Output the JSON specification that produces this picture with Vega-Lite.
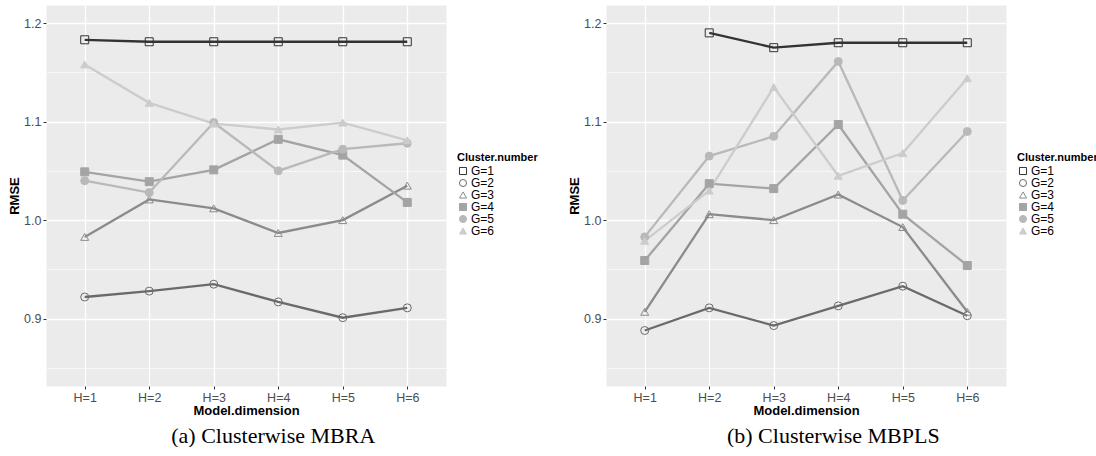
{
  "$schema": "https://vega.github.io/schema/vega-lite/v6.json",
  "background": "white",
  "padding": {"left": 8, "top": 4, "right": 0, "bottom": 0},
  "spacing": 29,
  "datasets": {
    "mbra": [
      {"H": "H=1", "G": "G=1", "RMSE": 1.183},
      {"H": "H=2", "G": "G=1", "RMSE": 1.181},
      {"H": "H=3", "G": "G=1", "RMSE": 1.181},
      {"H": "H=4", "G": "G=1", "RMSE": 1.181},
      {"H": "H=5", "G": "G=1", "RMSE": 1.181},
      {"H": "H=6", "G": "G=1", "RMSE": 1.181},
      {"H": "H=1", "G": "G=2", "RMSE": 0.922},
      {"H": "H=2", "G": "G=2", "RMSE": 0.928},
      {"H": "H=3", "G": "G=2", "RMSE": 0.935},
      {"H": "H=4", "G": "G=2", "RMSE": 0.917},
      {"H": "H=5", "G": "G=2", "RMSE": 0.901},
      {"H": "H=6", "G": "G=2", "RMSE": 0.911},
      {"H": "H=1", "G": "G=3", "RMSE": 0.983},
      {"H": "H=2", "G": "G=3", "RMSE": 1.021},
      {"H": "H=3", "G": "G=3", "RMSE": 1.012},
      {"H": "H=4", "G": "G=3", "RMSE": 0.987},
      {"H": "H=5", "G": "G=3", "RMSE": 1.000},
      {"H": "H=6", "G": "G=3", "RMSE": 1.035},
      {"H": "H=1", "G": "G=4", "RMSE": 1.049},
      {"H": "H=2", "G": "G=4", "RMSE": 1.039},
      {"H": "H=3", "G": "G=4", "RMSE": 1.051},
      {"H": "H=4", "G": "G=4", "RMSE": 1.082},
      {"H": "H=5", "G": "G=4", "RMSE": 1.066},
      {"H": "H=6", "G": "G=4", "RMSE": 1.018},
      {"H": "H=1", "G": "G=5", "RMSE": 1.040},
      {"H": "H=2", "G": "G=5", "RMSE": 1.028},
      {"H": "H=3", "G": "G=5", "RMSE": 1.099},
      {"H": "H=4", "G": "G=5", "RMSE": 1.050},
      {"H": "H=5", "G": "G=5", "RMSE": 1.072},
      {"H": "H=6", "G": "G=5", "RMSE": 1.078},
      {"H": "H=1", "G": "G=6", "RMSE": 1.158},
      {"H": "H=2", "G": "G=6", "RMSE": 1.119},
      {"H": "H=3", "G": "G=6", "RMSE": 1.098},
      {"H": "H=4", "G": "G=6", "RMSE": 1.092},
      {"H": "H=5", "G": "G=6", "RMSE": 1.099},
      {"H": "H=6", "G": "G=6", "RMSE": 1.081}
    ],
    "mbpls": [
      {"H": "H=2", "G": "G=1", "RMSE": 1.190},
      {"H": "H=3", "G": "G=1", "RMSE": 1.175},
      {"H": "H=4", "G": "G=1", "RMSE": 1.180},
      {"H": "H=5", "G": "G=1", "RMSE": 1.180},
      {"H": "H=6", "G": "G=1", "RMSE": 1.180},
      {"H": "H=1", "G": "G=2", "RMSE": 0.888},
      {"H": "H=2", "G": "G=2", "RMSE": 0.911},
      {"H": "H=3", "G": "G=2", "RMSE": 0.893},
      {"H": "H=4", "G": "G=2", "RMSE": 0.913},
      {"H": "H=5", "G": "G=2", "RMSE": 0.933},
      {"H": "H=6", "G": "G=2", "RMSE": 0.903},
      {"H": "H=1", "G": "G=3", "RMSE": 0.907},
      {"H": "H=2", "G": "G=3", "RMSE": 1.006},
      {"H": "H=3", "G": "G=3", "RMSE": 1.000},
      {"H": "H=4", "G": "G=3", "RMSE": 1.026},
      {"H": "H=5", "G": "G=3", "RMSE": 0.993},
      {"H": "H=6", "G": "G=3", "RMSE": 0.907},
      {"H": "H=1", "G": "G=4", "RMSE": 0.959},
      {"H": "H=2", "G": "G=4", "RMSE": 1.037},
      {"H": "H=3", "G": "G=4", "RMSE": 1.032},
      {"H": "H=4", "G": "G=4", "RMSE": 1.097},
      {"H": "H=5", "G": "G=4", "RMSE": 1.006},
      {"H": "H=6", "G": "G=4", "RMSE": 0.954},
      {"H": "H=1", "G": "G=5", "RMSE": 0.983},
      {"H": "H=2", "G": "G=5", "RMSE": 1.065},
      {"H": "H=3", "G": "G=5", "RMSE": 1.085},
      {"H": "H=4", "G": "G=5", "RMSE": 1.161},
      {"H": "H=5", "G": "G=5", "RMSE": 1.020},
      {"H": "H=6", "G": "G=5", "RMSE": 1.090},
      {"H": "H=1", "G": "G=6", "RMSE": 0.979},
      {"H": "H=2", "G": "G=6", "RMSE": 1.030},
      {"H": "H=3", "G": "G=6", "RMSE": 1.135},
      {"H": "H=4", "G": "G=6", "RMSE": 1.045},
      {"H": "H=5", "G": "G=6", "RMSE": 1.068},
      {"H": "H=6", "G": "G=6", "RMSE": 1.144}
    ]
  },
  "config": {
    "view": {"fill": "#EBEBEB", "stroke": "transparent"},
    "axis": {
      "domain": false,
      "grid": true,
      "gridColor": "white",
      "gridWidth": 1.3,
      "labelFont": "Liberation Sans",
      "labelFontSize": 12.5,
      "labelColor": "#4D4D4D",
      "tickColor": "#333333",
      "tickSize": 3,
      "labelPadding": 2,
      "titleFont": "Liberation Sans",
      "titleFontSize": 13,
      "titleFontWeight": "bold",
      "titleColor": "black"
    },
    "title": {"font": "Liberation Serif", "fontSize": 22, "fontWeight": "normal", "color": "black"}
  },
  "resolve": {"scale": {"color": "independent", "stroke": "independent", "fill": "independent", "shape": "independent"}, "legend": {"color": "independent", "stroke": "independent", "fill": "independent", "shape": "independent"}},
  "hconcat": [
    {
      "width": 400,
      "height": 381,
      "data": {"name": "mbra"},
      "title": {"text": "(a) Clusterwise MBRA", "orient": "bottom", "frame": "bounds", "anchor": "middle", "offset": 8},
      "encoding": {
        "x": {"field": "H", "type": "ordinal", "scale": {"type": "point", "padding": 0.6},
              "axis": {"title": "Model.dimension", "labelAngle": 0, "titlePadding": 1}},
        "y": {"field": "RMSE", "type": "quantitative",
              "scale": {"domain": [0.8317, 1.2183], "nice": false, "zero": false},
              "axis": {"title": "RMSE", "titlePadding": 2,
                       "values": [0.85, 0.9, 0.95, 1.0, 1.05, 1.1, 1.15, 1.2],
                       "labelExpr": "abs(datum.value*10 - round(datum.value*10)) < 0.01 ? format(datum.value, '.1f') : ''",
                       "gridWidth": {"condition": {"test": "abs(datum.value*10 - round(datum.value*10)) > 0.01", "value": 0.6}, "value": 1.3},
                       "tickColor": {"condition": {"test": "abs(datum.value*10 - round(datum.value*10)) > 0.01", "value": "transparent"}, "value": "#333333"}}}
      },
      "layer": [
        {"mark": {"type": "line", "strokeWidth": 2.3},
         "encoding": {"color": {"field": "G", "type": "nominal", "legend": null,
           "scale": {"range": ["#333333","#6A6A6A","#8B8B8B","#A4A4A4","#B9B9B9","#CCCCCC"]}}}},
        {"mark": {"type": "point", "size": 64, "strokeWidth": 1, "opacity": 1},
         "encoding": {
           "stroke": {"field": "G", "type": "nominal", "title": "Cluster.number",
             "scale": {"domain": ["G=1","G=2","G=3","G=4","G=5","G=6"], "range": ["#333333","#6A6A6A","#8B8B8B","#A4A4A4","#B9B9B9","#CCCCCC"]}},
           "fill": {"field": "G", "type": "nominal", "title": "Cluster.number",
             "scale": {"domain": ["G=1","G=2","G=3","G=4","G=5","G=6"], "range": ["transparent","transparent","transparent","#A4A4A4","#B9B9B9","#CCCCCC"]}},
           "shape": {"field": "G", "type": "nominal", "title": "Cluster.number",
             "scale": {"domain": ["G=1","G=2","G=3","G=4","G=5","G=6"], "range": ["square","circle","triangle-up","square","circle","triangle-up"]},
             "legend": {"orient": "none", "legendX": 411, "legendY": 147, "padding": 0,
                        "titleFont": "Liberation Sans", "titleFontSize": 11, "titleFontWeight": "bold", "titleColor": "black", "titlePadding": 2,
                        "labelFont": "Liberation Sans", "labelFontSize": 12, "labelColor": "black", "labelOffset": 2,
                        "rowPadding": 0, "symbolSize": 50, "symbolStrokeWidth": 1}}
         }}
      ]
    },
    {
      "width": 400,
      "height": 381,
      "data": {"name": "mbpls"},
      "title": {"text": "(b) Clusterwise MBPLS", "orient": "bottom", "frame": "bounds", "anchor": "middle", "offset": 8},
      "encoding": {
        "x": {"field": "H", "type": "ordinal", "scale": {"type": "point", "padding": 0.6},
              "axis": {"title": "Model.dimension", "labelAngle": 0, "titlePadding": 1}},
        "y": {"field": "RMSE", "type": "quantitative",
              "scale": {"domain": [0.8317, 1.2183], "nice": false, "zero": false},
              "axis": {"title": "RMSE", "titlePadding": 2,
                       "values": [0.85, 0.9, 0.95, 1.0, 1.05, 1.1, 1.15, 1.2],
                       "labelExpr": "abs(datum.value*10 - round(datum.value*10)) < 0.01 ? format(datum.value, '.1f') : ''",
                       "gridWidth": {"condition": {"test": "abs(datum.value*10 - round(datum.value*10)) > 0.01", "value": 0.6}, "value": 1.3},
                       "tickColor": {"condition": {"test": "abs(datum.value*10 - round(datum.value*10)) > 0.01", "value": "transparent"}, "value": "#333333"}}}
      },
      "layer": [
        {"mark": {"type": "line", "strokeWidth": 2.3},
         "encoding": {"color": {"field": "G", "type": "nominal", "legend": null,
           "scale": {"range": ["#333333","#6A6A6A","#8B8B8B","#A4A4A4","#B9B9B9","#CCCCCC"]}}}},
        {"mark": {"type": "point", "size": 64, "strokeWidth": 1, "opacity": 1},
         "encoding": {
           "stroke": {"field": "G", "type": "nominal", "title": "Cluster.number",
             "scale": {"domain": ["G=1","G=2","G=3","G=4","G=5","G=6"], "range": ["#333333","#6A6A6A","#8B8B8B","#A4A4A4","#B9B9B9","#CCCCCC"]}},
           "fill": {"field": "G", "type": "nominal", "title": "Cluster.number",
             "scale": {"domain": ["G=1","G=2","G=3","G=4","G=5","G=6"], "range": ["transparent","transparent","transparent","#A4A4A4","#B9B9B9","#CCCCCC"]}},
           "shape": {"field": "G", "type": "nominal", "title": "Cluster.number",
             "scale": {"domain": ["G=1","G=2","G=3","G=4","G=5","G=6"], "range": ["square","circle","triangle-up","square","circle","triangle-up"]},
             "legend": {"orient": "none", "legendX": 411, "legendY": 147, "padding": 0,
                        "titleFont": "Liberation Sans", "titleFontSize": 11, "titleFontWeight": "bold", "titleColor": "black", "titlePadding": 2,
                        "labelFont": "Liberation Sans", "labelFontSize": 12, "labelColor": "black", "labelOffset": 2,
                        "rowPadding": 0, "symbolSize": 50, "symbolStrokeWidth": 1}}
         }}
      ]
    }
  ]
}
